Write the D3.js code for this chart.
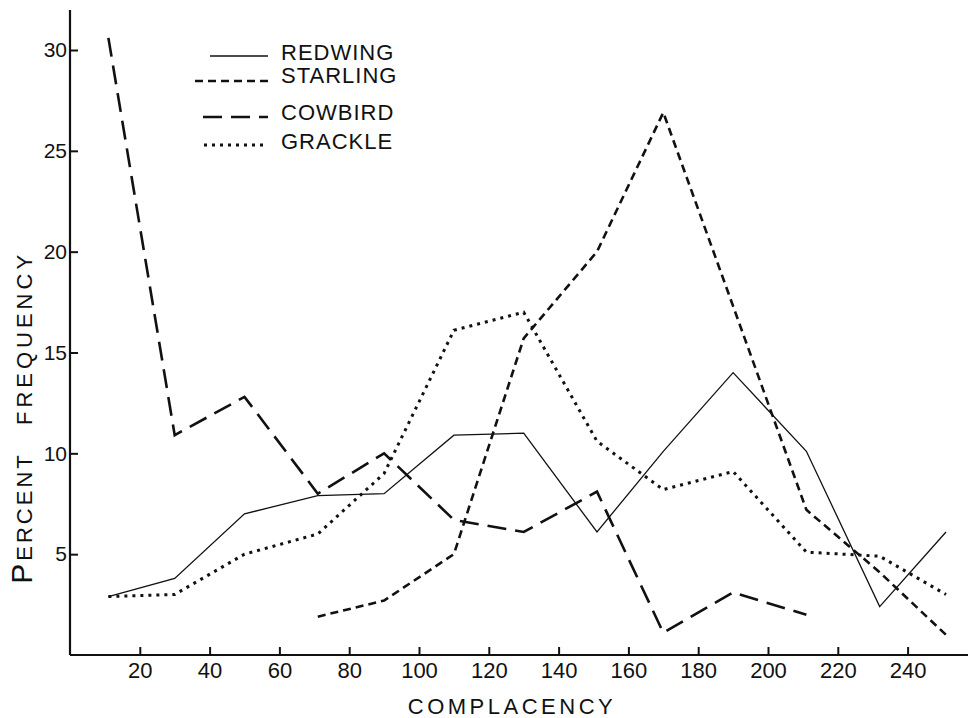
<!DOCTYPE html>
<html>
<head>
<meta charset="utf-8">
<script src="https://cdn.jsdelivr.net/npm/d3@7"></script>
<style>
  body { margin: 0; background: #fff; }
  svg text { font-family: "Liberation Sans", "DejaVu Sans", sans-serif; fill: #111; }
</style>
</head>
<body>
<div id="chart"></div>
<script>
// complacency scores (bin midpoints as drawn)
var complacency = [11, 30, 50, 71, 90, 110, 130, 151, 170, 190, 211, 232, 251];

var redwing  = [2.9, 3.8, 7.0, 7.9, 8.0, 10.9, 11.0, 6.1, 10.1, 14.0, 10.1, 2.4, 6.1];
var starling = [null, null, null, 1.9, 2.7, 5.0, 15.7, 20.0, 26.9, 17.3, 7.2, 4.1, 1.0];
var cowbird  = [30.6, 10.9, 12.8, 8.0, 10.0, 6.7, 6.1, 8.1, 1.1, 3.1, 2.0, null, null];
var grackle  = [2.9, 3.0, 5.0, 6.0, 9.0, 16.1, 17.0, 10.6, 8.2, 9.1, 5.1, 4.9, 3.0];

var seriesNames = ["REDWING", "STARLING", "COWBIRD", "GRACKLE"];
var xTicks = [20, 40, 60, 80, 100, 120, 140, 160, 180, 200, 220, 240];
var yTicks = [5, 10, 15, 20, 25, 30];

var W = 968, H = 718;

var svg = d3.select("#chart").append("svg")
  .attr("width", W)
  .attr("height", H);

var x = d3.scaleLinear().domain([0, 240]).range([70, 907.6]);
var y = d3.scaleLinear().domain([0, 30]).range([655, 50]);

// line styles per series
var styles = {
  REDWING:  { width: 1.3, dash: null },
  STARLING: { width: 2.6, dash: "8,5" },
  COWBIRD:  { width: 2.6, dash: "19,9" },
  GRACKLE:  { width: 3, dash: "3,5" }
};

var allSeries = [redwing, starling, cowbird, grackle].map(function(vals, i) {
  return {
    name: seriesNames[i],
    points: vals.map(function(v, j) { return { c: complacency[j], v: v }; })
                .filter(function(d) { return d.v !== null; })
  };
});

// axes lines
svg.append("line")
  .attr("x1", x(0)).attr("x2", W)
  .attr("y1", y(0)).attr("y2", y(0))
  .attr("stroke", "#111").attr("stroke-width", 2.2);
svg.append("line")
  .attr("x1", x(0)).attr("x2", x(0))
  .attr("y1", y(0)).attr("y2", 10)
  .attr("stroke", "#111").attr("stroke-width", 2.2);

var xAxis = svg.append("g")
  .attr("transform", "translate(0," + y(0) + ")")
  .call(d3.axisBottom(x).tickValues(xTicks).tickSize(-8).tickPadding(7));
xAxis.select(".domain").remove();
xAxis.selectAll("line").attr("stroke", "#111").attr("stroke-width", 2);
xAxis.selectAll("text").style("font-size", "22px").attr("font-family", null);

var yAxis = svg.append("g")
  .attr("transform", "translate(" + x(0) + ",0)")
  .call(d3.axisLeft(y).tickValues(yTicks).tickSize(-8).tickPadding(3));
yAxis.select(".domain").remove();
yAxis.selectAll("line").attr("stroke", "#111").attr("stroke-width", 2);
yAxis.selectAll("text").style("font-size", "21px").attr("font-family", null);

// series
var line = d3.line()
  .x(function(d) { return x(d.c); })
  .y(function(d) { return y(d.v); });

svg.selectAll(".series")
  .data(allSeries)
  .enter()
  .append("path")
    .attr("class", "series")
    .attr("fill", "none")
    .attr("stroke", "#111")
    .attr("stroke-width", function(d) { return styles[d.name].width; })
    .attr("stroke-dasharray", function(d) { return styles[d.name].dash; })
    .attr("stroke-linejoin", "miter")
    .attr("d", function(d) { return line(d.points); });

// legend
var legendRows = [
  { ly: 56, ty: 60, x0: 210 },
  { ly: 81, ty: 83, x0: 195 },
  { ly: 117, ty: 120, x0: 203 },
  { ly: 145, ty: 149, x0: 204 }
];
seriesNames.forEach(function(name, i) {
  var r = legendRows[i];
  svg.append("line")
    .attr("x1", r.x0).attr("x2", 268)
    .attr("y1", r.ly).attr("y2", r.ly)
    .attr("stroke", "#111")
    .attr("stroke-width", styles[name].width)
    .attr("stroke-dasharray", styles[name].dash);
  svg.append("text")
    .attr("x", 281).attr("y", r.ty)
    .style("font-size", "22px")
    .style("letter-spacing", "1px")
    .text(name);
});

// axis titles
svg.append("text")
  .attr("x", 512).attr("y", 714)
  .attr("text-anchor", "middle")
  .style("font-size", "22px")
  .style("letter-spacing", "3.5px")
  .text("COMPLACENCY");

var pct = svg.append("text")
  .attr("transform", "translate(32,518) rotate(-90)")
  .attr("text-anchor", "middle")
  .style("font-size", "22px")
  .style("letter-spacing", "3px");
pct.append("tspan").style("font-size", "30px").text("P");
pct.append("tspan").text("ERCENT");

svg.append("text")
  .attr("transform", "translate(32,338) rotate(-90)")
  .attr("text-anchor", "middle")
  .style("font-size", "22px")
  .style("letter-spacing", "4px")
  .text("FREQUENCY");
</script>
</body>
</html>
